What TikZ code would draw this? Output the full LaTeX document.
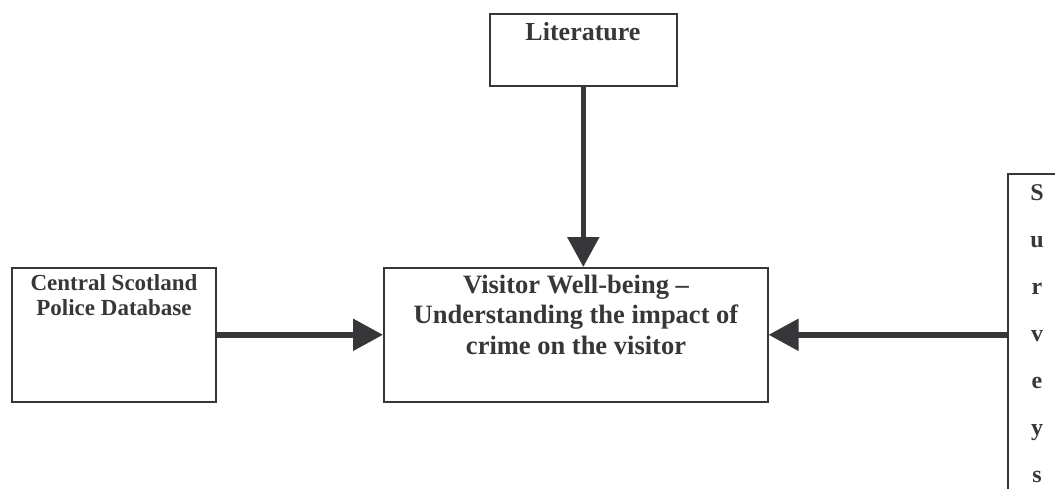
\documentclass[tikz,border=0pt]{standalone}
\usepackage{fontspec}
\setmainfont{Liberation Serif}
\usetikzlibrary{arrows.meta,calc}
\definecolor{ink}{RGB}{55,55,58}
\tikzset{
  box/.style={draw=ink, line width=1.6pt, rectangle, inner sep=0pt},
  lbl/.style={text=ink, font=\bfseries, inner sep=0pt, align=center},
  flow/.style={draw=ink, line width=5.5pt, -{Triangle[length=30pt,width=31pt]}},
}
\begin{document}
\begin{tikzpicture}[x=1pt,y=-1pt]
\useasboundingbox (0,0) rectangle (1055,488);
\clip (0,0) rectangle (1055,488);
% boxes
\node[box, minimum width=187pt, minimum height=72pt, anchor=north west] (lit) at (489,13) {};
\node[box, minimum width=204pt, minimum height=134pt, anchor=north west] (central) at (11,267) {};
\node[box, minimum width=384pt, minimum height=134pt, anchor=north west] (main) at (383,267) {};
\node[box, minimum width=80pt, minimum height=340pt, anchor=north west] (surveys) at (1007,173) {};
% texts (anchor=base is the baseline of the last line)
\node[lbl, anchor=base, font=\bfseries\fontsize{26}{30}\selectfont] (littext) at (583,40) {Literature};
\node[lbl, anchor=base, font=\bfseries\fontsize{23}{25}\selectfont] (centraltext) at (114,315) {Central Scotland\\Police Database};
\node[lbl, anchor=base, font=\bfseries\fontsize{26.5}{30.5}\selectfont] (maintext) at (576,354) {Visitor Well-being --\\Understanding the impact of\\crime on the visitor};
\node[lbl, anchor=base, font=\bfseries\fontsize{24}{47}\selectfont] (survtext) at (1037,482) {S\\u\\r\\v\\e\\y\\s};
% connectors
\draw[flow] (lit.south) -- (lit.south |- main.north);
\draw[flow] (central.east) -- (main.west);
\draw[flow] (surveys.west |- main.east) -- (main.east);
\end{tikzpicture}
\end{document}
